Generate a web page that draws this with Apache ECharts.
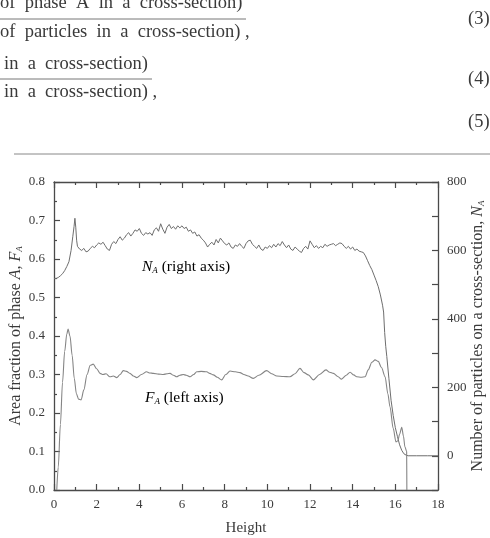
<!DOCTYPE html>
<html>
<head>
<meta charset="utf-8">
<script src="https://cdn.jsdelivr.net/npm/echarts@6/dist/echarts.min.js"></script>
<style>
  html, body { margin: 0; padding: 0; background: #fff; }
  #chart { width: 490px; height: 538px; }
</style>
</head>
<body>
<div id="chart"></div>
<script>
// N_A, number of particles on a cross-section (right axis)
const naHeight = [
  0, 0.1, 0.2, 0.3, 0.4, 0.5, 0.6, 0.7, 0.8, 0.88, 0.94, 0.98, 1.02, 1.06, 1.1,
  1.2, 1.3, 1.4, 1.5, 1.6, 1.7, 1.8, 1.9, 2.0,
  2.1, 2.2, 2.3, 2.4, 2.5, 2.6, 2.7, 2.8, 2.9, 3.0,
  3.1, 3.2, 3.3, 3.4, 3.5, 3.6, 3.7, 3.8, 3.9, 4.0,
  4.1, 4.2, 4.3, 4.4, 4.5, 4.6, 4.7, 4.8, 4.9, 5.0,
  5.1, 5.2, 5.3, 5.4, 5.5, 5.6, 5.7, 5.8, 5.9, 6.0,
  6.1, 6.2, 6.3, 6.4, 6.5, 6.6, 6.7, 6.8, 6.9, 7.0,
  7.1, 7.2, 7.3, 7.4, 7.5, 7.6, 7.7, 7.8, 7.9, 8.0,
  8.1, 8.2, 8.3, 8.4, 8.5, 8.6, 8.7, 8.8, 8.9, 9.0,
  9.1, 9.2, 9.3, 9.4, 9.5, 9.6, 9.7, 9.8, 9.9, 10.0,
  10.1, 10.2, 10.3, 10.4, 10.5, 10.6, 10.7, 10.8, 10.9, 11.0,
  11.1, 11.2, 11.3, 11.4, 11.5, 11.6, 11.7, 11.8, 11.9, 12.0,
  12.1, 12.2, 12.3, 12.4, 12.5, 12.6, 12.7, 12.8, 12.9, 13.0,
  13.1, 13.2, 13.3, 13.4, 13.5, 13.6, 13.7, 13.8, 13.9, 14.0,
  14.1, 14.2, 14.3, 14.4, 14.5, 14.6, 14.7, 14.8, 14.9, 15.0,
  15.1, 15.2, 15.3, 15.4, 15.45, 15.5, 15.55, 15.6, 15.7, 15.8, 15.9, 16.0,
  16.1, 16.2, 16.3, 16.4, 16.5, 16.6, 17.0, 17.5, 18.0
];
const naCount = [
  518, 518, 521, 526, 532, 541, 553, 567, 600, 640, 670, 694, 668, 630, 612,
  604, 600, 606, 596, 598, 606, 612, 608, 616,
  622, 618, 624, 614, 604, 600, 618, 626, 620, 632,
  640, 630, 636, 646, 652, 642, 650, 660, 656, 664,
  650, 644, 652, 648, 652, 644, 660, 666, 656, 678,
  662, 650, 668, 676, 664, 670, 662, 672, 666, 672,
  664, 668, 656, 660, 650, 654, 642, 646, 636, 630,
  622, 610, 618, 624, 616, 632, 622, 636, 628, 620,
  616, 622, 610, 606, 616, 612, 620, 612, 606, 620,
  628, 630, 618, 612, 606, 616, 604, 600, 610, 606,
  614, 608, 618, 610, 620, 614, 626, 616, 608, 616,
  604, 600, 610, 604, 598, 594, 606, 612, 604, 628,
  618, 608, 614, 606, 612, 608, 618, 612, 616, 618,
  620, 614, 618, 622, 620, 612, 606, 612, 604, 610,
  600, 604, 598, 596, 594, 584, 570, 556, 544, 528,
  512, 494, 470, 440, 420, 360, 320, 290, 225, 162, 118, 82,
  56, 32, 16, 6, 2, 0, 0, 0, 0
];

// F_A, area fraction of phase A (left axis)
const faHeight = [
  0.13, 0.2, 0.3, 0.4, 0.5, 0.6, 0.66, 0.75, 0.85, 0.95, 1.05, 1.15, 1.27, 1.4, 1.55,
  1.7, 1.84, 2.0, 2.16, 2.3, 2.44, 2.62, 2.78, 2.94, 3.1, 3.25, 3.4, 3.56, 3.72, 3.88,
  4.1, 4.34, 4.5, 4.66, 4.9, 5.12, 5.3, 5.44, 5.6, 5.75, 5.9, 6.06, 6.2, 6.38, 6.55,
  6.69, 6.9, 7.16, 7.3, 7.47, 7.65, 7.86, 8.05, 8.25, 8.5, 8.72, 8.9, 9.1, 9.34, 9.6,
  9.97, 10.2, 10.44, 10.75, 11.06, 11.3, 11.53, 11.72, 11.92, 12.16, 12.45, 12.75, 12.92, 13.1, 13.3,
  13.48, 13.7, 13.88, 14.05, 14.19, 14.4, 14.58, 14.73, 14.9, 15.05, 15.2, 15.35, 15.52, 15.65, 15.75,
  15.9, 16.03, 16.12, 16.2, 16.3, 16.38, 16.45, 16.53, 16.54
];
const faFraction = [
  0, 0.06, 0.17, 0.28, 0.36, 0.405, 0.418, 0.40, 0.35, 0.29, 0.25, 0.236, 0.234, 0.26, 0.30,
  0.324, 0.327, 0.315, 0.303, 0.300, 0.302, 0.294, 0.296, 0.292, 0.300, 0.310, 0.308, 0.303, 0.296, 0.292,
  0.300, 0.307, 0.304, 0.303, 0.301, 0.300, 0.302, 0.303, 0.298, 0.294, 0.298, 0.300, 0.298, 0.294, 0.300,
  0.307, 0.308, 0.307, 0.303, 0.299, 0.293, 0.286, 0.300, 0.309, 0.307, 0.305, 0.300, 0.296, 0.290, 0.298,
  0.310, 0.302, 0.296, 0.295, 0.294, 0.302, 0.316, 0.305, 0.299, 0.286, 0.300, 0.312, 0.306, 0.303, 0.295,
  0.288, 0.298, 0.306, 0.299, 0.294, 0.293, 0.294, 0.312, 0.332, 0.338, 0.334, 0.318, 0.294, 0.25, 0.216,
  0.16, 0.125, 0.128, 0.145, 0.163, 0.14, 0.112, 0.10, 0
];

const leftTicks = [0, 0.1, 0.2, 0.3, 0.4, 0.5, 0.6, 0.7, 0.8];
const rightLabels = [0, 200, 400, 600, 800];

const serif = '"Liberation Serif", "DejaVu Serif", serif';
const ink = '#3a3a3a';
const lineGrey = '#6e6e6e';

const chart = echarts.init(document.getElementById('chart'));

// 轴的公共样式
function frameAxis(extra) {
  return Object.assign({
    axisLine: { show: true, onZero: false, lineStyle: { color: '#4a4a4a', width: 1.3 } },
    axisTick: { show: true, inside: true, length: 6, lineStyle: { color: '#4a4a4a', width: 1.2 } },
    minorTick: { show: true, splitNumber: 2, length: 3, lineStyle: { color: '#4a4a4a', width: 1.2 } },
    splitLine: { show: false },
    axisLabel: { fontFamily: serif, fontSize: 13, color: ink }
  }, extra);
}

const subRich = {
  i: { fontFamily: serif, fontStyle: 'italic', fontSize: 16, color: ink },
  s: { fontFamily: serif, fontStyle: 'italic', fontSize: 9, color: ink, verticalAlign: 'bottom', padding: [7, 0, 0, 0] },
  n: { fontFamily: serif, fontSize: 16, color: ink }
};
const noteRich = {
  i: { fontFamily: serif, fontStyle: 'italic', fontSize: 15.5, color: ink },
  s: { fontFamily: serif, fontStyle: 'italic', fontSize: 9, color: ink, verticalAlign: 'bottom', padding: [7, 0, 0, 0] },
  n: { fontFamily: serif, fontSize: 15.5, color: ink }
};

const eqText = { fontFamily: serif, fontSize: 18.5, fill: ink };

const option = {
  animation: false,
  backgroundColor: '#fff',
  grid: { left: 54, right: 52, top: 182, bottom: 48, containLabel: false, outerBoundsMode: 'none' },
  xAxis: [
    frameAxis({
      type: 'value', min: 0, max: 18, interval: 2, position: 'bottom',
      name: 'Height', nameLocation: 'middle', nameGap: 31, nameMoveOverlap: false,
      nameTextStyle: { fontFamily: serif, fontSize: 15, color: ink },
      axisLabel: { fontFamily: serif, fontSize: 13, color: ink, margin: 8 }
    }),
    frameAxis({
      type: 'value', min: 0, max: 18, interval: 2, position: 'top',
      axisLabel: { show: false }
    })
  ],
  yAxis: [
    frameAxis({
      type: 'value', min: 0, max: 0.8, interval: 0.1, position: 'left',
      name: '{n|Area fraction of phase }{i|A}{n|, }{i|F}{s|A}',
      nameLocation: 'middle', nameGap: 30, nameRotate: 90, nameMoveOverlap: false,
      nameTextStyle: { rich: subRich },
      axisLabel: {
        fontFamily: serif, fontSize: 13, color: ink, margin: 9,
        formatter: v => leftTicks.some(t => Math.abs(t - v) < 1e-6) ? v.toFixed(1) : ''
      }
    }),
    frameAxis({
      type: 'value', min: -100, max: 800, interval: 100, position: 'right',
      name: '{n|Number of particles on a cross-section, }{i|N}{s|A}',
      nameLocation: 'middle', nameGap: 32, nameRotate: 90, nameMoveOverlap: false,
      nameTextStyle: { rich: subRich },
      minorTick: { show: false },
      axisLabel: {
        fontFamily: serif, fontSize: 13, color: ink, margin: 9,
        formatter: v => rightLabels.indexOf(v) >= 0 ? String(v) : ''
      }
    })
  ],
  series: [
    {
      name: 'N_A', type: 'line', xAxisIndex: 0, yAxisIndex: 1,
      data: naHeight.map((h, i) => [h, naCount[i]]),
      showSymbol: false, clip: true,
      lineStyle: { color: lineGrey, width: 1 }
    },
    {
      name: 'F_A', type: 'line', xAxisIndex: 0, yAxisIndex: 0,
      data: faHeight.map((h, i) => [h, faFraction[i]]),
      showSymbol: false, clip: true, smooth: 0.3, smoothMonotone: 'x',
      lineStyle: { color: '#858585', width: 1.1 }
    }
  ],
  graphic: [
    // 上方公式残段
    { type: 'text', left: 0, top: -6, style: Object.assign({ text: 'of  phase  A  in  a  cross-section)' }, eqText) },
    { type: 'line', shape: { x1: 0, y1: 19, x2: 246, y2: 19 }, style: { stroke: '#777', lineWidth: 1 } },
    { type: 'text', left: 0, top: 23, style: Object.assign({ text: 'of  particles  in  a  cross-section) ,' }, eqText) },
    { type: 'text', left: 468, top: 10, style: Object.assign({ text: '(3)' }, eqText) },
    { type: 'text', left: 4, top: 55, style: Object.assign({ text: 'in  a  cross-section)' }, eqText) },
    { type: 'line', shape: { x1: 0, y1: 79, x2: 152, y2: 79 }, style: { stroke: '#777', lineWidth: 1 } },
    { type: 'text', left: 4, top: 83, style: Object.assign({ text: 'in  a  cross-section) ,' }, eqText) },
    { type: 'text', left: 468, top: 70, style: Object.assign({ text: '(4)' }, eqText) },
    { type: 'text', left: 468, top: 113, style: Object.assign({ text: '(5)' }, eqText) },
    { type: 'line', shape: { x1: 14, y1: 154, x2: 490, y2: 154 }, style: { stroke: '#888', lineWidth: 1 } },
    // 曲线说明
    {
      type: 'text', left: 142, top: 259,
      style: { text: '{i|N}{s|A}{n| (right axis)}', rich: noteRich }
    },
    {
      type: 'text', left: 145, top: 390,
      style: { text: '{i|F}{s|A}{n| (left axis)}', rich: noteRich }
    }
  ]
};

chart.setOption(option);
</script>
</body>
</html>
